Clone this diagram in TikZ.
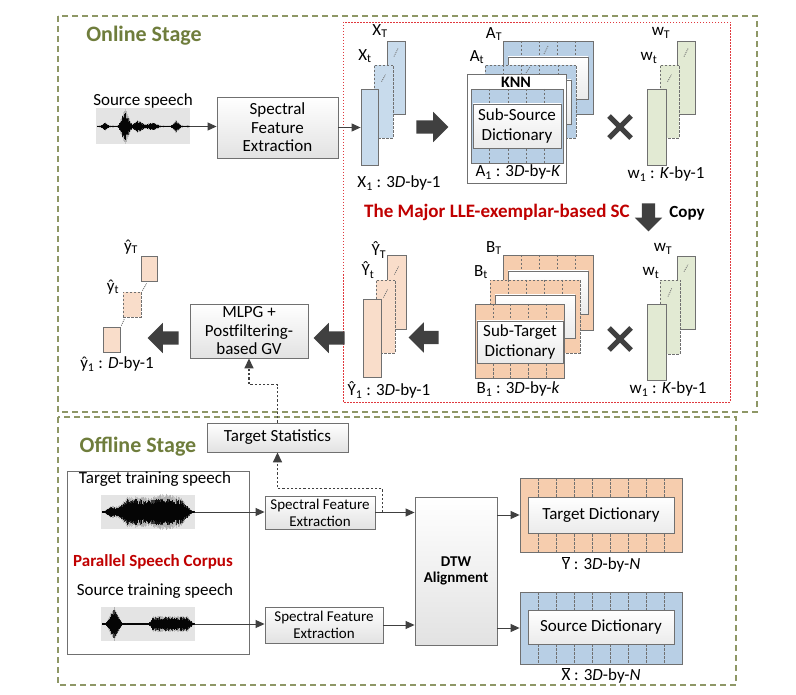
\documentclass[tikz,border=0pt]{standalone}
\usepackage{fontspec}
\setmainfont{Carlito}
\usetikzlibrary{arrows.meta,shapes.arrows,calc}
\definecolor{stolive}{HTML}{6F7D3C}
\definecolor{stdash}{HTML}{8E9766}
\definecolor{stred}{HTML}{E0393E}
\definecolor{sttxtred}{HTML}{C00000}
\definecolor{stborder}{HTML}{707070}
\definecolor{starrow}{HTML}{404040}
\definecolor{stblue}{HTML}{C8DBEC}
\definecolor{stbluem}{HTML}{B8CFE5}
\definecolor{stgreen}{HTML}{E2EAD3}
\definecolor{storange}{HTML}{F6CDAE}
\definecolor{stpeach}{HTML}{F9DDCA}
\definecolor{stbox}{HTML}{E2E2E2}
\definecolor{stwavebg}{HTML}{E4E4E4}
\newcommand\sub[1]{\textsubscript{#1}}
\newcommand\fs[2]{\fontsize{#1}{#2}\selectfont}
\newcommand\mframe[8]{%
  \node[draw=stborder, line width=0.8pt, fill=#6, minimum width=#4, minimum height=#5, inner sep=0pt, #8] (#1) at (#2,#3) {};
  \pgfmathtruncatemacro\nsep{#7-1}%
  \foreach \k in {1,...,\nsep}{%
    \pgfmathsetmacro\sx{#2-#4/2+#4*\k/#7}%
    \draw[sepline] (\sx,{#3-#5/2}) -- (\sx,{#3+#5/2});
  }%
}
\newcommand\wave[5]{%
  \pgfmathsetseed{#4}%
  \draw[black!80, line width=1pt] (#1,#3) -- (#2,#3);
  \pgfmathtruncatemacro\wn{(#2-#1)/0.5}%
  \foreach \i in {0,...,\wn}{%
    \pgfmathsetmacro\x{#1+0.5*\i}%
    \pgfmathsetmacro\wa{(#5)}%
    \pgfmathsetmacro\wb{\wa*(0.55+0.45*rnd)}%
    \pgfmathsetmacro\wc{\wa*(0.9+0.3*rnd)}%
    \draw[wavehalo] (\x,{#3-\wc}) -- (\x,{#3+\wc});
    \draw[wavest] (\x,{#3-\wb}) -- (\x,{#3+\wb});
  }%
}
\begin{document}
\begin{tikzpicture}[x=1pt,y=-1pt,
  declare function={tri(\ta,\tb,\tc)=max(0,1-abs(\ta-\tb)/\tc);},
  box/.style={draw=stborder, line width=0.9pt, top color=white, bottom color=stbox, align=center, inner sep=0pt, font=\fs{17}{18.5}},
  innerbox/.style={draw=stborder, line width=0.9pt, top color=white, bottom color=stbox!70, align=center, inner sep=0pt, font=\fs{17}{19.5}},
  vec/.style={draw=stborder, line width=0.8pt, inner sep=0pt, minimum width=18pt, minimum height=75pt},
  dashb/.style={dash pattern=on 2.5pt off 1.5pt},
  sepline/.style={draw=stborder, line width=0.6pt, dash pattern=on 2.5pt off 1.5pt},
  mk/.style={draw=stborder, line width=0.8pt, dash pattern=on 1pt off 1pt},
  lbl/.style={inner sep=0pt, font=\fs{17}{19}},
  arr/.style={draw=starrow, line width=1pt, -{Triangle[length=9pt,width=8pt]}},
  dotarr/.style={draw=starrow, line width=1.6pt, dash pattern=on 2.2pt off 2pt, -{Triangle[length=10pt,width=9pt]}},
  barrow/.style={single arrow, fill=starrow, draw=none, inner sep=6.5pt, single arrow head extend=8.5pt, minimum width=0pt},
  xcross/.style={draw=starrow, line width=5pt},
  wavest/.style={draw=black, line width=0.6pt, opacity=0.9},
  wavehalo/.style={draw=black!45, line width=0.6pt, opacity=0.35},
  wbg/.style={fill=stwavebg, inner sep=0pt, minimum width=94pt, minimum height=36pt},
]
\useasboundingbox (0,0) rectangle (796,695);
\fill[white] (0,0) rectangle (796,695);

% stage frames
\draw[stdash, line width=1.2pt, dash pattern=on 6pt off 4pt] (58,16) rectangle (757,412);
\draw[stdash, line width=1.2pt, dash pattern=on 6pt off 4pt] (58,417) rectangle (736,685);
\draw[stred, line width=0.9pt, dash pattern=on 1.5pt off 1.5pt] (343,22) rectangle (730,402);
\node[font=\fs{22}{24}\bfseries, text=stolive, inner sep=0pt] (online) at (144,36) {Online Stage};
\node[font=\fs{22}{24}\bfseries, text=stolive, inner sep=0pt] (offline) at (138,447) {Offline Stage};

% online source
\node[lbl] (srclbl) at (143,101) {Source speech};
\node[wbg] (srcwave) at (143,126.5) {};
\wave{97}{189}{126.5}{3}{0.9+3*tri(\x,105,4)+15*tri(\x,125,7)+5*tri(\x,138,8)+3*tri(\x,152,9)+5*tri(\x,176,5)}
\node[box, minimum width=121pt, minimum height=61pt] (sfe1) at (277.5,127.5) {Spectral\\Feature\\Extraction};
\draw[arr] (srcwave.east) -- (srcwave.east -| sfe1.west);

% X vectors
\node[vec, fill=stblue, minimum height=73pt] (xT) at (396,77.5) {};
\node[vec, dashb, fill=stblue, minimum width=19pt, minimum height=73pt] (xt) at (383.5,101.5) {};
\node[vec, fill=stblue, minimum width=17pt, minimum height=76pt] (x1) at (369.5,127) {};
\draw[mk] ($(xT.north)+(-2,16)$) -- ($(xT.north)+(2,8)$);
\draw[mk] ($(xt.north)+(-2,17)$) -- ($(xt.north)+(2,10)$);
\draw[arr] (sfe1.east) -- (sfe1.east -| x1.west);
\node[lbl] (xTl) at (380,31) {X\sub{T}};
\node[lbl] (xtl) at (365,56) {X\sub{t}};
\node[lbl] (x1l) at (399,183) {X\sub{1} : 3\textit{D}-by-1};
\node[barrow, minimum height=32pt] (ba1) at (429,127) {};

% A frames
\mframe{aT}{548}{77.5}{90}{73}{stbluem}{5}{}
\node[innerbox, minimum width=80pt, minimum height=42pt] (aTin) at (548,78) {};
\draw[mk] (544,54) -- (548,46);
\mframe{at}{530.5}{101.5}{91}{73}{stbluem}{5}{dashb}
\node[innerbox, minimum width=81pt, minimum height=44pt] (atin) at (530.5,102) {};
\draw[mk] (526,73) -- (530,67);
\node[draw=stborder, line width=0.8pt, fill=white, minimum width=99pt, minimum height=109pt, inner sep=0pt] (a1box) at (516.5,128.5) {};
\mframe{a1}{517}{126}{92}{74}{stbluem}{5}{}
\node[innerbox, minimum width=88pt, minimum height=44pt] (a1in) at (517,126) {Sub-Source\\Dictionary};
\node[lbl, font=\fs{16}{18}\bfseries] (knn) at (516,82) {KNN};
\node[lbl] (a1l) at (518,172) {A\sub{1} : 3\textit{D}-by-\textit{K}};
\node[lbl] (aTl) at (494,34) {A\sub{T}};
\node[lbl] (atl) at (477,57) {A\sub{t}};

\draw[xcross] (609,116) -- (631,138) (609,138) -- (631,116);

% w vectors top
\node[vec, fill=stgreen, minimum height=73pt] (wT) at (686,77.5) {};
\node[vec, dashb, fill=stgreen, minimum width=19pt, minimum height=73pt] (wt) at (669.5,101.5) {};
\node[vec, fill=stgreen, minimum width=19pt, minimum height=76pt] (w1) at (656.5,127) {};
\draw[mk] ($(wT.north)+(-2,16)$) -- ($(wT.north)+(2,8)$);
\draw[mk] ($(wt.north)+(-2,17)$) -- ($(wt.north)+(2,10)$);
\node[lbl] (wTl) at (661,33) {w\sub{T}};
\node[lbl] (wtl) at (649,58) {w\sub{t}};
\node[lbl] (w1l) at (666,174) {w\sub{1} : \textit{K}-by-1};

% title and copy
\node[lbl, font=\fs{19}{21}\bfseries, text=sttxtred] (major) at (497,212) {The Major LLE-exemplar-based SC};
\node[barrow, shape border rotate=270, minimum height=28pt, single arrow head extend=7pt] (copyarr) at (648.5,214) {};
\node[lbl, font=\fs{17}{19}\bfseries] (copy) at (687,213) {Copy};

% Y hat vectors
\node[vec, fill=stpeach, minimum width=19pt, minimum height=74pt] (yT) at (396.5,292) {};
\node[vec, dashb, fill=stpeach, minimum width=19pt, minimum height=73pt] (yt) at (385.5,316.5) {};
\node[vec, fill=stpeach, minimum width=18pt, minimum height=78pt] (y1) at (372,338) {};
\draw[mk] ($(yT.north)+(-2,20)$) -- ($(yT.north)+(2,12)$);
\draw[mk] ($(yt.north)+(-2,18)$) -- ($(yt.north)+(2,10)$);
\node[lbl] (yTl) at (379,250) {Ŷ\sub{T}};
\node[lbl] (ytl) at (368,270) {Ŷ\sub{t}};
\node[lbl] (y1l) at (389,390) {Ŷ\sub{1} : 3\textit{D}-by-1};
\node[barrow, shape border rotate=180, minimum height=30pt] (ba2) at (427,337.5) {};

% B frames
\mframe{bT}{548}{292.5}{90}{75}{storange}{5}{}
\node[innerbox, minimum width=80pt, minimum height=43pt] (bTin) at (548,292.5) {};
\mframe{bt}{535}{316.5}{90}{73}{storange}{5}{dashb}
\node[innerbox, minimum width=80pt, minimum height=43pt] (btin) at (535,316.5) {};
\mframe{b1}{519.5}{341}{89}{74}{storange}{5}{}
\node[innerbox, minimum width=86pt, minimum height=42pt] (b1in) at (520,342) {Sub-Target\\Dictionary};
\node[lbl] (bTl) at (494,248) {B\sub{T}};
\node[lbl] (btl) at (481,272) {B\sub{t}};
\node[lbl] (b1l) at (518,389) {B\sub{1} : 3\textit{D}-by-\textit{k}};

\draw[xcross] (609,328) -- (631,350) (609,350) -- (631,328);

% w vectors bottom
\node[vec, fill=stgreen, minimum height=73pt] (wT2) at (686,292.5) {};
\node[vec, dashb, fill=stgreen, minimum width=20pt, minimum height=74pt] (wt2) at (670,317) {};
\node[vec, fill=stgreen, minimum width=19pt, minimum height=76pt] (w12) at (656.5,342) {};
\draw[mk] ($(wT2.north)+(-2,16)$) -- ($(wT2.north)+(2,9)$);
\draw[mk] ($(wt2.north)+(-2,17)$) -- ($(wt2.north)+(2,8)$);
\node[lbl] (wT2l) at (663,249) {w\sub{T}};
\node[lbl] (wt2l) at (651,273) {w\sub{t}};
\node[lbl] (w12l) at (668,389) {w\sub{1} : \textit{K}-by-1};

% MLPG and output
\node[box, minimum width=118pt, minimum height=54pt] (mlpg) at (249,331) {MLPG +\\Postfiltering-\\based GV};
\node[barrow, shape border rotate=180, minimum height=31pt] (ba3) at (332.5,338) {};
\node[barrow, shape border rotate=180, minimum height=31pt] (ba4) at (166.5,338) {};
\node[vec, fill=stpeach, minimum width=16pt, minimum height=25pt] (sT) at (149,268.5) {};
\node[vec, dashb, fill=stpeach, minimum width=18pt, minimum height=25pt] (st) at (132,304.5) {};
\node[vec, fill=stpeach, minimum width=17pt, minimum height=25pt] (s1) at (111.5,339.5) {};
\draw[mk] ($(s1.north east)+(1,-1)$) -- ($(st.south west)+(2,1)$);
\draw[mk] ($(st.north east)+(1,-1)$) -- ($(sT.south west)+(6,2)$);
\node[lbl] (sTl) at (131,247) {ŷ\sub{T}};
\node[lbl] (stl) at (113,287) {ŷ\sub{t}};
\node[lbl] (s1l) at (117,364) {ŷ\sub{1} : \textit{D}-by-1};

% offline
\node[box, minimum width=141pt, minimum height=29pt] (ts) at (277.5,437.5) {Target Statistics};
\draw[dotarr] (ts.north) -- ++(0,-38) -| (mlpg.south);

\node[draw=stborder, line width=0.9pt, minimum width=182pt, minimum height=183pt, inner sep=0pt] (corpus) at (158,562.5) {};
\node[lbl] (ttl) at (155,479) {Target training speech};
\node[wbg, minimum height=34pt] (twave) at (148,512) {};
\wave{102}{194}{512}{5}{1+5*tri(\x,112,8)+12*max(0,min(1,(\x-115)/12,(192-\x)/12))+3*tri(\x,165,12)}
\node[lbl, font=\fs{17}{19}\bfseries, text=sttxtred] (pscl) at (153,562) {Parallel Speech Corpus};
\node[lbl] (stlb) at (155,591) {Source training speech};
\node[wbg, minimum height=34pt] (swave) at (148,624) {};
\wave{102}{194}{624}{9}{0.9+15*tri(\x,114,8)+6*max(0,min(1,(\x-149)/4,(193-\x)/6))}

\node[box, font=\fs{15}{16.7}, minimum width=110pt, minimum height=33pt] (sfeT) at (320,512.5) {Spectral Feature\\Extraction};
\node[box, font=\fs{15}{16.7}, minimum width=118pt, minimum height=36pt] (sfeS) at (324,625) {Spectral Feature\\Extraction};
\node[box, font=\fs{15}{16}\bfseries, minimum width=82pt, minimum height=148pt] (dtw) at (456,571) {DTW\\Alignment};

\draw[arr] (twave.east) -- (twave.east -| sfeT.west);
\draw[arr] (swave.east) -- (swave.east -| sfeS.west);
\draw[arr] (sfeT.east) -- (sfeT.east -| dtw.west);
\draw[arr] (sfeS.east) -- (sfeS.east -| dtw.west);
\coordinate (br) at ($(sfeT.east)+(7,0)$);
\draw[dotarr] (br) -- ++(0,-24) -| (ts.south);

% dictionaries
\mframe{tdict}{601}{515}{162}{74}{storange}{9}{}
\node[innerbox, minimum width=146pt, minimum height=36pt] (tdictin) at (601,515) {Target Dictionary};
\node[lbl] (tdl) at (601,564) {$\overline{\mbox{Y}}$ : 3\textit{D}-by-\textit{N}};
\mframe{sdict}{601}{628}{162}{72}{stbluem}{9}{}
\node[innerbox, minimum width=146pt, minimum height=34pt] (sdictin) at (601,627) {Source Dictionary};
\node[lbl] (sdl) at (601,675) {$\overline{\mbox{X}}$ : 3\textit{D}-by-\textit{N}};
\draw[arr] (tdict.west -| dtw.east) -- (tdict.west);
\draw[arr] (sdict.west -| dtw.east) -- (sdict.west);
\end{tikzpicture}
\end{document}
